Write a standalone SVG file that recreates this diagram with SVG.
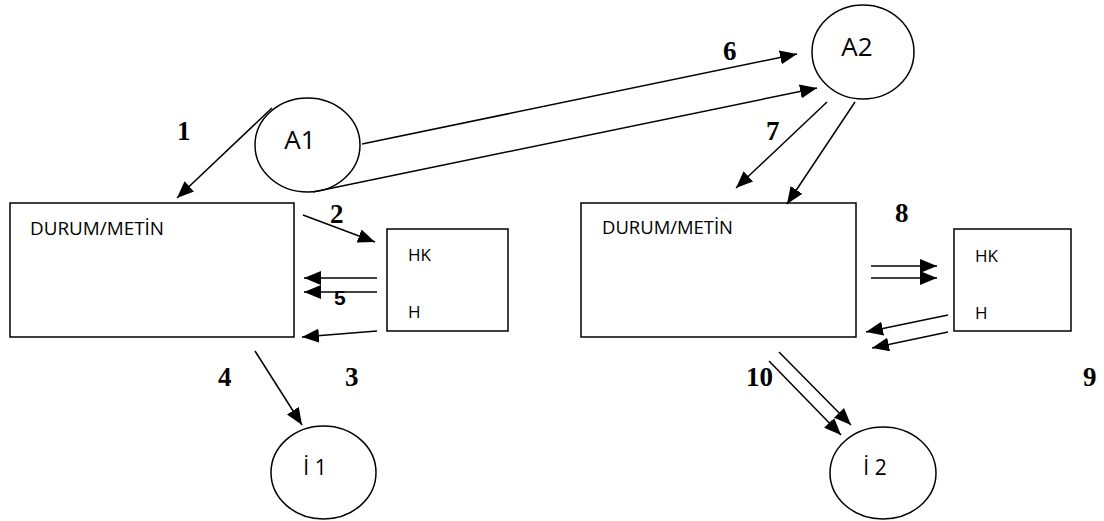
<svg xmlns="http://www.w3.org/2000/svg" width="1104" height="521" viewBox="0 0 1104 521">
<defs>
<marker id="ah" markerUnits="userSpaceOnUse" markerWidth="17" markerHeight="14" refX="17" refY="7" orient="auto" viewBox="0 0 17 14">
<path d="M0,0 L17,7 L0,14 z" fill="#000"/>
</marker>
</defs>
<style>
.shape{fill:#fff;stroke:#000;stroke-width:1.5}
.conn line{stroke:#000;stroke-width:1.5;marker-end:url(#ah)}
.t{font-family:"Open Sans","Liberation Sans",sans-serif;font-size:17px;fill:#000}
.dm{font-family:"Open Sans","Liberation Sans",sans-serif;font-size:19px;fill:#000}
.big{font-family:"Open Sans","Liberation Sans",sans-serif;font-size:26px;fill:#000}
.mid{font-family:"Open Sans","Liberation Sans",sans-serif;font-size:21px;fill:#000}
.num{font-family:"Liberation Serif","Times New Roman",serif;font-size:27px;font-weight:bold;fill:#000}
.num5{font-family:"Liberation Sans",Arial,sans-serif;font-size:21px;font-weight:bold;fill:#000}
</style>
<rect width="1104" height="521" fill="#fff"/>
<g id="box1"><rect class="shape" x="10" y="203" width="284" height="134"/><text class="dm" x="30" y="235" textLength="134" lengthAdjust="spacingAndGlyphs">DURUM/METİN</text></g>
<g id="hk1"><rect class="shape" x="387" y="229" width="121" height="102"/><text class="t" x="408" y="261">HK</text><text class="t" x="408" y="318">H</text></g>
<g id="box2"><rect class="shape" x="581" y="203" width="275" height="134"/><text class="dm" x="602" y="234" textLength="131" lengthAdjust="spacingAndGlyphs">DURUM/METİN</text></g>
<g id="hk2"><rect class="shape" x="954" y="229" width="117" height="102"/><text class="t" x="975" y="262">HK</text><text class="t" x="975" y="319">H</text></g>
<g id="a1"><ellipse class="shape" cx="307.5" cy="145" rx="52.5" ry="47"/><text class="big" x="300" y="149" text-anchor="middle">A1</text></g>
<g id="a2"><ellipse class="shape" cx="863" cy="52" rx="51" ry="47"/><text class="big" x="857" y="56" text-anchor="middle">A2</text></g>
<g id="i1"><ellipse class="shape" cx="323.5" cy="472.5" rx="52.5" ry="46.5"/><text class="mid" x="315" y="475" text-anchor="middle">İ 1</text></g>
<g id="i2"><ellipse class="shape" cx="883" cy="473" rx="53" ry="46"/><text class="mid" x="875" y="475" text-anchor="middle">İ 2</text></g>
<g id="connectors" class="conn">
<line x1="272" y1="108" x2="177" y2="198"/>
<line x1="362" y1="144" x2="797" y2="54"/>
<line x1="313" y1="192" x2="817" y2="88"/>
<line x1="303" y1="215" x2="375" y2="242"/>
<line x1="377" y1="278" x2="304" y2="278"/>
<line x1="377" y1="292" x2="304" y2="292"/>
<line x1="377" y1="331" x2="302" y2="337"/>
<line x1="255" y1="351" x2="302" y2="425"/>
<line x1="827" y1="102" x2="736" y2="188"/>
<line x1="855" y1="102" x2="787" y2="204"/>
<line x1="871" y1="266" x2="937" y2="266"/>
<line x1="871" y1="278" x2="937" y2="278"/>
<line x1="948" y1="315" x2="866" y2="332"/>
<line x1="948" y1="332" x2="872" y2="348"/>
<line x1="779" y1="352" x2="851" y2="425"/>
<line x1="769" y1="361" x2="841" y2="435"/>
</g>
<g id="labels">
<text class="num" x="177" y="140">1</text>
<text class="num" x="330" y="223">2</text>
<text class="num" x="345" y="386">3</text>
<text class="num" x="218" y="386">4</text>
<text class="num5" x="334" y="305">5</text>
<text class="num" x="723" y="60">6</text>
<text class="num" x="766" y="140">7</text>
<text class="num" x="895" y="222">8</text>
<text class="num" x="1083" y="386">9</text>
<text class="num" x="746" y="386">10</text>
</g>
</svg>
